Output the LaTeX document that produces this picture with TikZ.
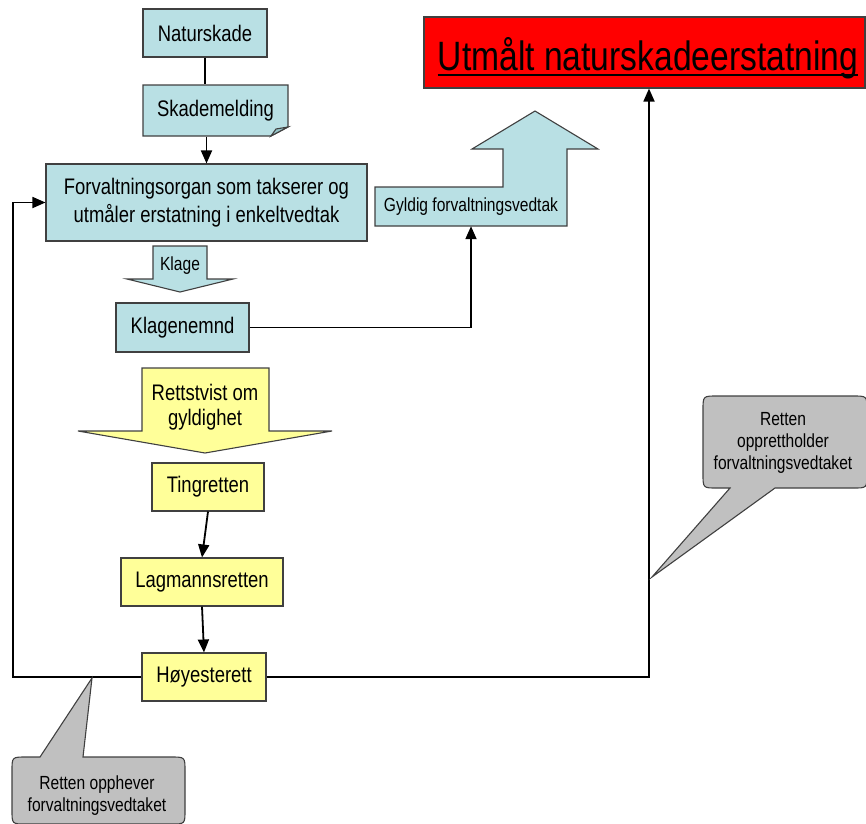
\documentclass[tikz,border=0pt]{standalone}
\usepackage{fontspec}
\setmainfont{Liberation Sans}[FakeStretch=0.82]
\usetikzlibrary{arrows.meta,calc}
\definecolor{lightteal}{RGB}{185,224,228}
\definecolor{darkteal}{RGB}{150,196,200}
\definecolor{paleyellow}{RGB}{255,255,153}
\definecolor{calloutgray}{RGB}{192,192,192}
\newcommand{\boxh}{48}

\tikzset{
  box/.style={draw=black!75,line width=1.1pt,inner sep=0pt,minimum height=\boxh,align=center,font=\fontsize{22.5}{28}\selectfont},
  bluebox/.style={box,fill=lightteal},
  yellowbox/.style={box,fill=paleyellow},
  outline/.style={draw=black!75,line width=1.1pt},
  link/.style={line width=1.8pt,-{Triangle[length=13pt,width=11pt]}},
  small/.style={font=\fontsize{19}{22}\selectfont,align=center,inner sep=0pt},
}

\begin{document}
\begin{tikzpicture}[x=1pt,y=-1pt]
  \useasboundingbox (0,0) rectangle (866,823);

  % blue part: report and administrative decision
  \node[bluebox,minimum width=124] (damage) at (205,33) {Naturskade};
  \filldraw[outline,fill=lightteal] (143,85) -- (288,85) -- (288,127) -- (271,136) -- (143,136) -- cycle;
  \filldraw[outline,fill=darkteal] (271,136) -- (276,129) -- (288,127) -- cycle;
  \node[box,draw=none,minimum width=145,minimum height=51] (report) at (215.5,110.5) {Skademelding};
  \node[bluebox,minimum width=321,minimum height=77] (admin) at (206.5,202.5)
    {Forvaltningsorgan som takserer og\\utmåler erstatning i enkeltvedtak};

  % appeal arrow
  \filldraw[outline,fill=lightteal] (153,246) -- (207,246) -- (207,279) -- (233,279) -- (180,292) -- (127,279) -- (153,279) -- cycle;
  \node[small] (complaint) at (180,266) {Klage};
  \node[bluebox,minimum width=133,minimum height=49] (appeal) at (182.5,327.5) {Klagenemnd};

  % valid decision arrow
  \filldraw[outline,fill=lightteal] (375,226) -- (567,226) -- (567,149) -- (598,149) -- (535,111) -- (472,149) -- (503,149) -- (503,187) -- (375,187) -- cycle;
  \node[small,minimum width=192,minimum height=39] (valid) at (471,206.5) {Gyldig forvaltningsvedtak};

  % result
  \node[box,fill=red,minimum width=441,minimum height=71] (award) at (644.5,52.5) {};
  \node[anchor=base,inner sep=0pt,font=\fontsize{41}{44}\selectfont] (awardtext) at (648,70) {Utmålt naturskadeerstatning};
  \draw[line width=2.6pt] ($(awardtext.base west)+(0,5)$) -- ($(awardtext.base east)+(0,5)$);

  % court dispute
  \filldraw[outline,fill=paleyellow] (142,368) -- (269,368) -- (269,431) -- (332,431) -- (205,453) -- (78,431) -- (142,431) -- cycle;
  \node[align=center,inner sep=0pt,font=\fontsize{22.5}{25}\selectfont] (dispute) at (205,407) {Rettstvist om\\gyldighet};
  \node[yellowbox,minimum width=112] (district) at (208,487) {Tingretten};
  \node[yellowbox,minimum width=162] (appealcourt) at (202,582) {Lagmannsretten};
  \node[yellowbox,minimum width=124] (supreme) at (204,677) {Høyesterett};
  \coordinate (loopcorner) at (13,677);

  % connectors
  \draw[line width=1.8pt] (damage.south) -- (damage.south |- report.north);
  \draw[link] (admin.north |- report.south) -- (admin.north);
  \draw[link] (appeal.east) -| (valid.south);
  \draw[link] (district.south) -- (appealcourt.north);
  \draw[link] (appealcourt.south) -- (supreme.north);
  \draw[link] (supreme.west) -- (loopcorner) |- (admin.west);
  \draw[link] (supreme.east) -| ($(award.south)+(4.5,0)$);

  % callouts
  \filldraw[outline,fill=calloutgray] (775,488) -- (853,488) .. controls (867,488) .. (867,474) -- (867,410)
    .. controls (867,396) .. (853,396) -- (717,396) .. controls (703,396) .. (703,410) -- (703,474)
    .. controls (703,488) .. (717,488) -- (730,488) -- (652,577) -- cycle;
  \node[small] (upheld) at (783,443) {Retten\\opprettholder\\forvaltningsvedtaket};
  \filldraw[outline,fill=calloutgray] (83,757) -- (171,757) .. controls (185,757) .. (185,771) -- (185,810)
    .. controls (185,824) .. (171,824) -- (26,824) .. controls (12,824) .. (12,810) -- (12,771)
    .. controls (12,757) .. (26,757) -- (40,757) -- (92,678) -- cycle;
  \node[small] (annulled) at (97,796) {Retten opphever\\forvaltningsvedtaket};
\end{tikzpicture}
\end{document}
